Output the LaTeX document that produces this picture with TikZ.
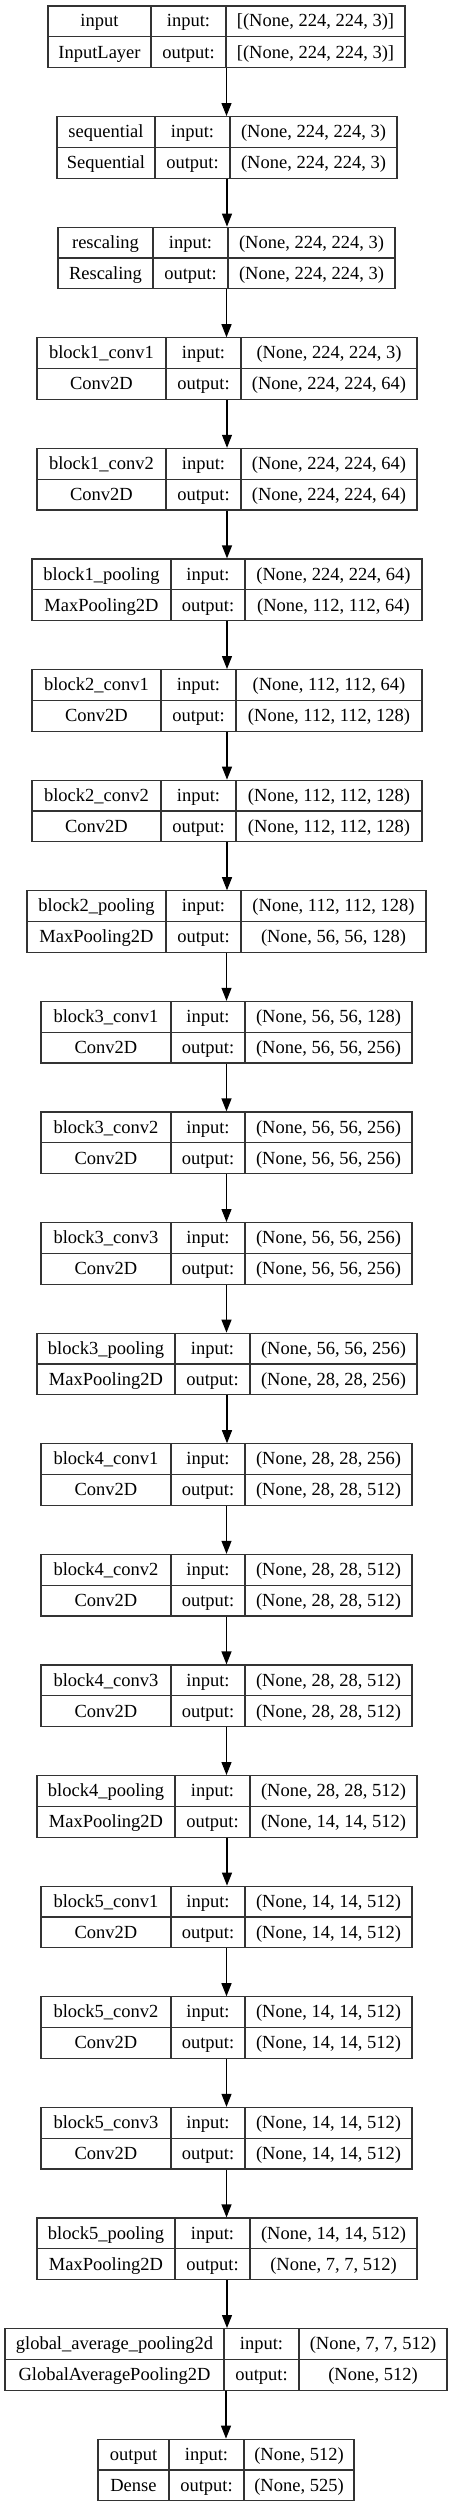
\documentclass[tikz,border=0pt]{standalone}
\usepackage{fontspec}
\setmainfont{Liberation Serif}
\usetikzlibrary{arrows.meta}

\tikzset{
  frame/.style={draw=black!80, line width=1.2pt, inner sep=0pt, minimum height=61.5pt},
  rule/.style={draw=black!80, line width=1.2pt},
  cell/.style={inner sep=0pt, anchor=base, font=\fontsize{18.5}{22}\selectfont},
  flow/.style={draw=black, line width=1.2pt, -{Triangle[length=13pt,width=10pt]}},
}

\begin{document}
\begin{tikzpicture}[x=1pt, y=-1pt]
\useasboundingbox (0,0) rectangle (453,2508);

% one table per layer: number / column edges / name / class / shapes
\foreach \i/\xa/\xb/\xc/\xd/\lname/\lclass/\shin/\shout in {
  1/48/151/226/405/input/InputLayer/{[(None, 224, 224, 3)]}/{[(None, 224, 224, 3)]},
  2/57/155/230/397/sequential/Sequential/{(None, 224, 224, 3)}/{(None, 224, 224, 3)},
  3/58/153/228/395/rescaling/Rescaling/{(None, 224, 224, 3)}/{(None, 224, 224, 3)},
  4/37/166/241/417/block1\_conv1/Conv2D/{(None, 224, 224, 3)}/{(None, 224, 224, 64)},
  5/37/166/241/417/block1\_conv2/Conv2D/{(None, 224, 224, 64)}/{(None, 224, 224, 64)},
  6/32/171/245/422/block1\_pooling/MaxPooling2D/{(None, 224, 224, 64)}/{(None, 112, 112, 64)},
  7/32/161/236/422/block2\_conv1/Conv2D/{(None, 112, 112, 64)}/{(None, 112, 112, 128)},
  8/32/161/236/422/block2\_conv2/Conv2D/{(None, 112, 112, 128)}/{(None, 112, 112, 128)},
  9/27/166/241/426/block2\_pooling/MaxPooling2D/{(None, 112, 112, 128)}/{(None, 56, 56, 128)},
  10/41/171/245/412/block3\_conv1/Conv2D/{(None, 56, 56, 128)}/{(None, 56, 56, 256)},
  11/41/171/245/412/block3\_conv2/Conv2D/{(None, 56, 56, 256)}/{(None, 56, 56, 256)},
  12/41/171/245/412/block3\_conv3/Conv2D/{(None, 56, 56, 256)}/{(None, 56, 56, 256)},
  13/37/175/250/417/block3\_pooling/MaxPooling2D/{(None, 56, 56, 256)}/{(None, 28, 28, 256)},
  14/41/171/245/412/block4\_conv1/Conv2D/{(None, 28, 28, 256)}/{(None, 28, 28, 512)},
  15/41/171/245/412/block4\_conv2/Conv2D/{(None, 28, 28, 512)}/{(None, 28, 28, 512)},
  16/41/171/245/412/block4\_conv3/Conv2D/{(None, 28, 28, 512)}/{(None, 28, 28, 512)},
  17/37/175/250/417/block4\_pooling/MaxPooling2D/{(None, 28, 28, 512)}/{(None, 14, 14, 512)},
  18/41/171/245/412/block5\_conv1/Conv2D/{(None, 14, 14, 512)}/{(None, 14, 14, 512)},
  19/41/171/245/412/block5\_conv2/Conv2D/{(None, 14, 14, 512)}/{(None, 14, 14, 512)},
  20/41/171/245/412/block5\_conv3/Conv2D/{(None, 14, 14, 512)}/{(None, 14, 14, 512)},
  21/37/175/250/417/block5\_pooling/MaxPooling2D/{(None, 14, 14, 512)}/{(None, 7, 7, 512)},
  22/5/224/299/447/global\_average\_pooling2d/GlobalAveragePooling2D/{(None, 7, 7, 512)}/{(None, 512)},
  23/98/169/244/354/output/Dense/{(None, 512)}/{(None, 525)}
}{
  \pgfmathsetmacro\ytop{6+(\i-1)*110.6}
  \node[frame, minimum width={(\xd-\xa)*1pt}] (L\i) at ({(\xa+\xd)/2},\ytop+30.75) {};
  \draw[rule] (\xb,\ytop) -- (\xb,\ytop+61.5)
              (\xc,\ytop) -- (\xc,\ytop+61.5)
              (\xa,\ytop+30.75) -- (\xd,\ytop+30.75);
  \node[cell] (L\i-name) at ({(\xa+\xb)/2},\ytop+21) {\lname};
  \node[cell] (L\i-class) at ({(\xa+\xb)/2},\ytop+52) {\lclass};
  \node[cell] (L\i-in) at ({(\xb+\xc)/2},\ytop+21) {input:};
  \node[cell] (L\i-out) at ({(\xb+\xc)/2},\ytop+52) {output:};
  \node[cell] (L\i-shin) at ({(\xc+\xd)/2},\ytop+21) {\shin};
  \node[cell] (L\i-shout) at ({(\xc+\xd)/2},\ytop+52) {\shout};
}

% arrows between layers
\foreach \i [evaluate=\i as \j using int(\i+1)] in {1,...,22}
  \draw[flow] (L\i.south) -- (L\i.south |- L\j.north);
\end{tikzpicture}
\end{document}
